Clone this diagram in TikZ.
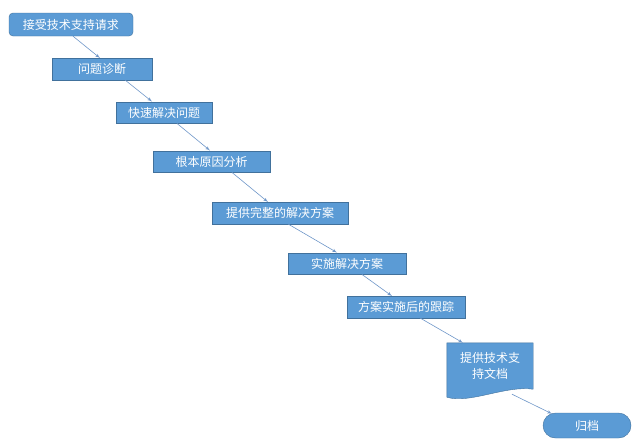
\documentclass[tikz,border=0pt]{standalone}
\usepackage{fontspec}
\newfontfamily\cjk{Noto Sans CJK SC}
\usetikzlibrary{arrows,calc,backgrounds}
\definecolor{boxblue}{RGB}{91,155,213}
\definecolor{boxedge}{RGB}{65,113,156}
\definecolor{linkblue}{RGB}{110,150,200}
\tikzstyle{task}=[rectangle,
                  draw=boxedge,
                  fill=boxblue,
                  text=white,
                  font=\cjk\fontsize{12}{15.5}\selectfont,
                  minimum height=21.5pt,
                  inner sep=0pt]
\tikzstyle{start}=[task, rounded corners=4pt, minimum height=23pt]
\tikzstyle{docu}=[task, draw=none, fill=none, align=center,
minimum width=86pt, minimum height=46pt]
\tikzstyle{finish}=[task, rounded corners=12.5pt, minimum height=25pt]
\tikzstyle{line}=[draw=linkblue, line width=0.6pt, -latex']

\begin{document}
\begin{tikzpicture}[x=1pt,y=1pt]
      \useasboundingbox (0,0) rectangle (640,-440);

      \node [start, minimum width=124pt] (request) at (71,-24.5) {接受技术支持请求};
      \node [task, minimum width=100pt, below of=request, node distance=44.5pt, xshift=31pt] (diagnose) {问题诊断};
      \node [task, minimum width=96pt, below of=diagnose, node distance=43.5pt, xshift=62pt] (quickfix) {快速解决问题};
      \node [task, minimum width=117pt, below of=quickfix, node distance=49pt, xshift=47.5pt] (rootcause) {根本原因分析};
      \node [task, minimum width=136pt, below of=rootcause, node distance=51.5pt, xshift=68.5pt] (solution) {提供完整的解决方案};
      \node [task, minimum width=118pt, below of=solution, node distance=50.5pt, xshift=67pt] (apply) {实施解决方案};
      \node [task, minimum width=118pt, below of=apply, node distance=43.5pt, xshift=59pt] (followup) {方案实施后的跟踪};
      \node [docu, below of=followup, node distance=59pt, xshift=84pt] (document) {提供技术支\\持文档};
      \node [finish, minimum width=88pt, below of=document, node distance=59.5pt, xshift=97pt] (archive) {归档};

      % document shape with wavy bottom
      \begin{scope}[on background layer]
        \filldraw [fill=boxblue, draw=boxedge]
          (document.north west) -- (document.north east) -- (document.south east)
          .. controls ([xshift=-28pt,yshift=4pt]document.south east)
          and ([xshift=23pt,yshift=-15pt]document.south west)
          .. ([yshift=-8pt]document.south west) -- cycle;
      \end{scope}

      \path [line] ([xshift=2pt]request.south) -- ([xshift=-2pt]diagnose.north);
      \path [line] ([xshift=23pt]diagnose.south) -- ([xshift=-12pt]quickfix.north);
      \path [line] ([xshift=13pt]quickfix.south) -- ([xshift=-1.5pt]rootcause.north);
      \path [line] ([xshift=20.5pt]rootcause.south) -- ([xshift=-12pt]solution.north);
      \path [line] ([xshift=8pt]solution.south) -- ([xshift=-10pt]apply.north);
      \path [line] ([xshift=15pt]apply.south) -- ([xshift=-14pt]followup.north);
      \path [line] ([xshift=14pt]followup.south) -- ([xshift=-27pt]document.north);
      \path [line] ([xshift=22pt,yshift=-5pt]document.south) -- ([xshift=-35pt,yshift=-1pt]archive.north);
    \end{tikzpicture}
\end{document}
